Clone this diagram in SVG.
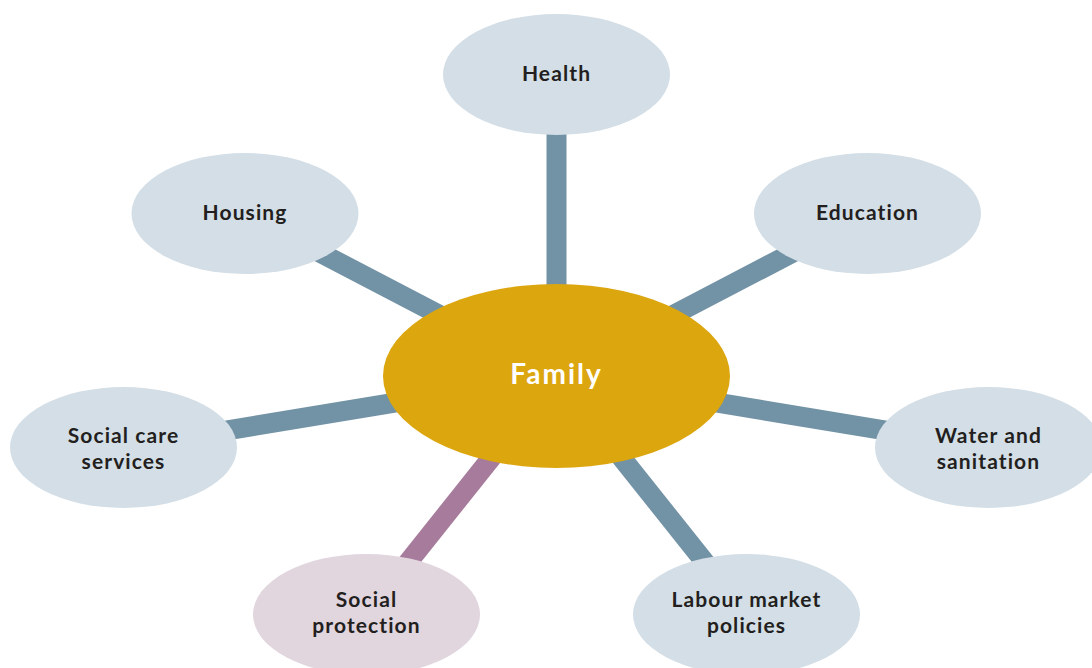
<svg xmlns="http://www.w3.org/2000/svg" width="1092" height="668" viewBox="0 0 1092 668">
<style>
.link{stroke:#7292a5;stroke-width:20;fill:none}
.link.sp{stroke:#a67b9b}
.node{fill:#d3dee6}
.node.sp{fill:#e1d5de}
.lbl{font-family:Lato,"Open Sans",sans-serif;font-weight:bold;font-size:21px;fill:#231f20;text-anchor:middle;letter-spacing:1.1px}
.core{fill:#dca60f}
.corelbl{font-family:Lato,"Open Sans",sans-serif;font-weight:bold;font-size:28px;fill:#ffffff;text-anchor:middle;letter-spacing:2px}
</style>
<rect width="1092" height="668" fill="#ffffff"/>
<g id="connectors">
<line class="link" x1="556.5" y1="376" x2="556.5" y2="74.5"/>
<line class="link" x1="556.5" y1="376" x2="245" y2="213.5"/>
<line class="link" x1="556.5" y1="376" x2="867.5" y2="213.5"/>
<line class="link" x1="556.5" y1="376" x2="123.5" y2="447.5"/>
<line class="link" x1="556.5" y1="376" x2="988.5" y2="447.5"/>
<line class="link" x1="556.5" y1="376" x2="746.5" y2="614.5"/>
<line class="link sp" x1="556.5" y1="376" x2="366.5" y2="614.5"/>
</g>
<g id="health"><ellipse class="node" cx="556.5" cy="74.5" rx="113.5" ry="60.5"/><text class="lbl" x="556.5" y="81">Health</text></g>
<g id="housing"><ellipse class="node" cx="245" cy="213.5" rx="113.5" ry="60.5"/><text class="lbl" x="245" y="220">Housing</text></g>
<g id="education"><ellipse class="node" cx="867.5" cy="213.5" rx="113.5" ry="60.5"/><text class="lbl" x="867.5" y="220">Education</text></g>
<g id="social-care"><ellipse class="node" cx="123.5" cy="447.5" rx="113.5" ry="60.5"/><text class="lbl" x="123.5" y="443">Social care</text><text class="lbl" x="123.5" y="469">services</text></g>
<g id="water"><ellipse class="node" cx="988.5" cy="447.5" rx="113.5" ry="60.5"/><text class="lbl" x="988.5" y="443">Water and</text><text class="lbl" x="988.5" y="469">sanitation</text></g>
<g id="social-protection"><ellipse class="node sp" cx="366.5" cy="614.5" rx="113.5" ry="60.5"/><text class="lbl" x="366.5" y="607">Social</text><text class="lbl" x="366.5" y="633">protection</text></g>
<g id="labour"><ellipse class="node" cx="746.5" cy="614.5" rx="113.5" ry="60.5"/><text class="lbl" x="746.5" y="607">Labour market</text><text class="lbl" x="746.5" y="633">policies</text></g>
<g id="family"><ellipse class="core" cx="556.5" cy="376" rx="173.5" ry="92"/><text class="corelbl" x="556.5" y="384">Family</text></g>
</svg>
